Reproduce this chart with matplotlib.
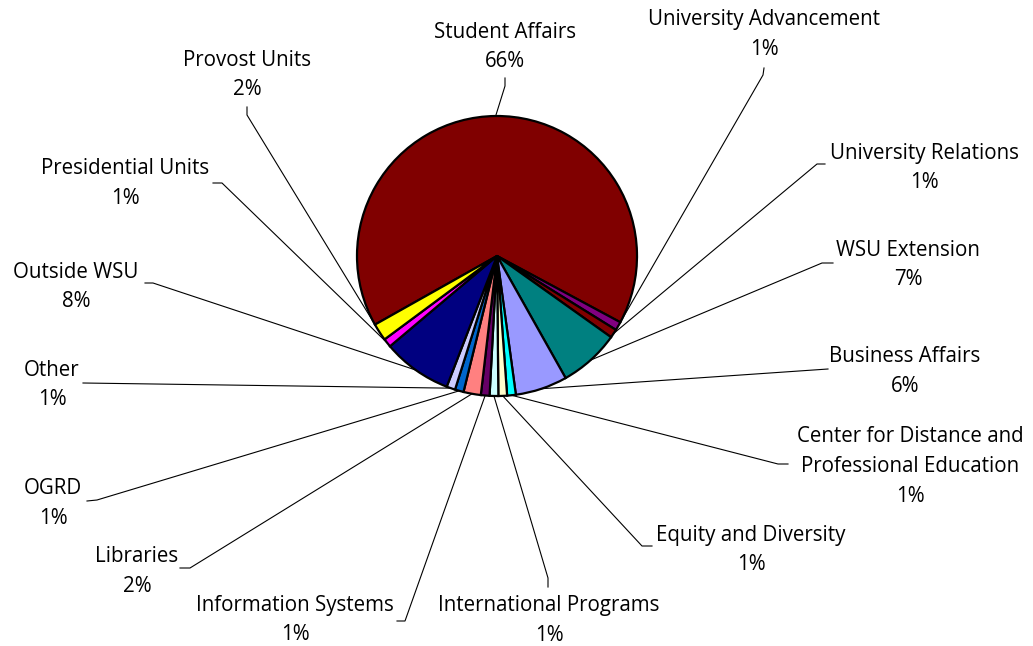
import numpy as np
import matplotlib
matplotlib.use("Agg")
import matplotlib.pyplot as plt

# slices listed clockwise, starting with Student Affairs
units = ["Student Affairs", "University Advancement", "University Relations",
         "WSU Extension", "Business Affairs",
         "Center for Distance and\nProfessional Education",
         "Equity and Diversity", "International Programs", "Information Systems",
         "Libraries", "OGRD", "Other", "Outside WSU", "Presidential Units",
         "Provost Units"]
percent = [66, 1, 1, 7, 6, 1, 1, 1, 1, 2, 1, 1, 8, 1, 2]
colors = ["#800000", "#800080", "#800000", "#008080", "#9999FF", "#00FFFF",
          "#FFFFCC", "#CCFFFF", "#660066", "#FF8080", "#0066CC", "#CCCCFF",
          "#000080", "#FF00FF", "#FFFF00"]

# label layout in pixels from the top-left corner:
# text centre x, first line y, then the leader's elbow (pie side, label side)
label_pos = [(505, 32), (764, 20), (924, 153), (908, 250), (905, 357),
             (910, 437), (751, 535), (549, 606), (295, 605), (137, 557),
             (53, 489), (52, 370), (76, 272), (125, 169), (247, 60)]
elbows = [((505, 86), (505, 78)), ((763, 75), (764, 68)), ((817, 164), (825, 164)),
          ((822, 263), (833, 263)), ((828, 369), (828, 369)),
          ((778, 464), (788, 464)), ((642, 546), (652, 546)),
          ((548, 578), (548, 587)), ((405, 621), (397, 621)),
          ((190, 568), (180, 568)), ((97, 500), (87, 501)),
          ((83, 383), (83, 383)), ((153, 283), (145, 283)),
          ((222, 183), (213, 183)), ((247, 115), (247, 107))]

W, H = 1033, 646
cx, cy, r = 497, 256, 140

plt.rcParams['font.family'] = ['Open Sans', 'DejaVu Sans']

fig = plt.figure(figsize=(W / 100, H / 100), dpi=100)
ax = fig.add_axes([0, 0, 1, 1])
ax.axis('off')

start = 90 + 0.55 + percent[0] / 100 * 360 / 2
wedges, _ = ax.pie(percent, colors=colors, startangle=start, counterclock=False,
                   center=(cx, H - cy), radius=r,
                   wedgeprops=dict(edgecolor='black', linewidth=1.6))
ax.set_xlim(0, W)
ax.set_ylim(0, H)
ax.set_aspect('equal')

for w, name, val, (tx, ty), (a, b) in zip(wedges, units, percent, label_pos, elbows):
    mid = np.deg2rad((w.theta1 + w.theta2) / 2)
    ex, ey = cx + r * np.cos(mid), (H - cy) + r * np.sin(mid)
    ax.plot([ex, a[0], b[0]], [ey, H - a[1], H - b[1]], color='black', lw=0.8)
    lines = name.split("\n") + [f"{val}%"]
    for k, line in enumerate(lines):
        ax.text(tx, H - (ty + 29.5 * k), line, ha='center', va='center',
                fontsize=14.8, color='black')

fig.savefig("out.png", dpi=100)
